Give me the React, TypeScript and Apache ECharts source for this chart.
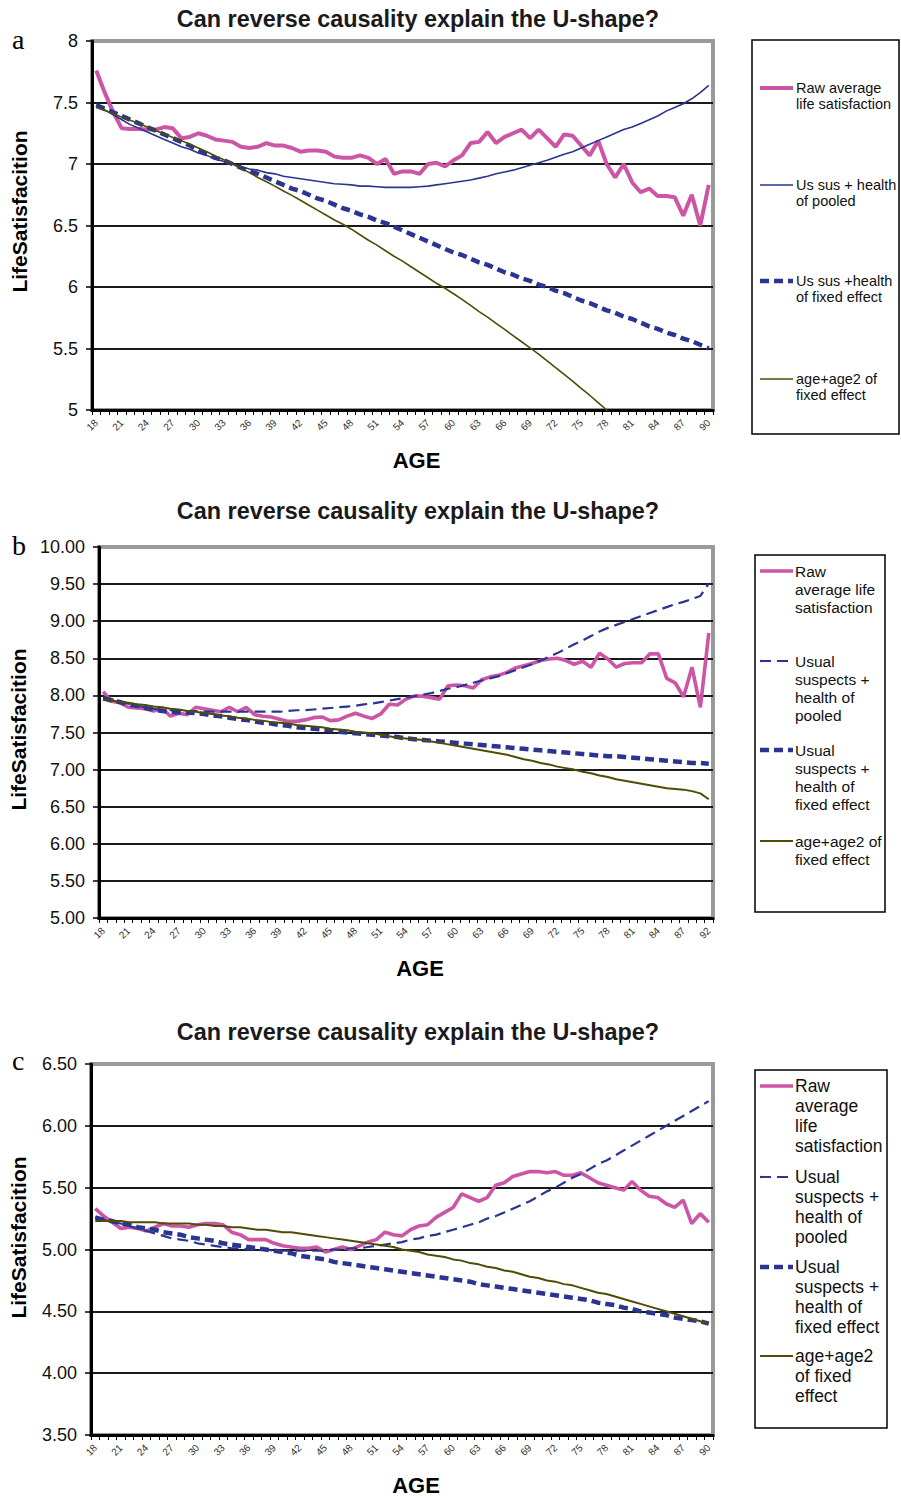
import React, { useEffect, useRef } from 'react';
import * as echarts from 'echarts';

const FONT = '"Liberation Sans", Arial, Helvetica, sans-serif';
const SERIF = '"Liberation Serif", "Times New Roman", serif';

// ---------- categories ----------
const agesA: string[] = Array.from({ length: 73 }, (_, i) => String(18 + i));
const agesB: string[] = [...Array.from({ length: 70 }, (_, i) => String(18 + i)), '88', '90', '92'];
const agesC: string[] = Array.from({ length: 73 }, (_, i) => String(18 + i));

// ---------- panel a ----------
const rawA = [7.76,7.58,7.42,7.29,7.285,7.285,7.28,7.28,7.30,7.29,
  7.21,7.22,7.25,7.23,7.20,7.19,7.18,7.14,7.13,7.14,
  7.17,7.15,7.15,7.13,7.10,7.11,7.11,7.10,7.06,7.05,
  7.05,7.07,7.05,7.00,7.04,6.92,6.94,6.94,6.92,7.00,
  7.01,6.98,7.03,7.07,7.17,7.18,7.26,7.17,7.22,7.25,
  7.28,7.21,7.28,7.21,7.14,7.24,7.23,7.15,7.07,7.19,
  7.00,6.89,7.00,6.85,6.77,6.80,6.74,6.74,6.73,6.58,
  6.75,6.50,6.83];
const pooledA = [7.48,7.44,7.40,7.36,7.32,7.29,7.26,7.23,7.20,7.17,
  7.14,7.12,7.09,7.07,7.04,7.02,7.00,6.98,6.96,6.95,
  6.93,6.92,6.90,6.89,6.88,6.87,6.86,6.85,6.84,6.835,
  6.83,6.82,6.82,6.815,6.81,6.81,6.81,6.81,6.815,6.82,
  6.83,6.84,6.85,6.86,6.87,6.885,6.90,6.92,6.935,6.95,
  6.97,6.99,7.01,7.03,7.055,7.08,7.10,7.13,7.16,7.19,
  7.22,7.25,7.28,7.30,7.33,7.36,7.39,7.43,7.46,7.49,
  7.53,7.58,7.64];
const fixedA = [7.48,7.45,7.42,7.39,7.36,7.33,7.30,7.27,7.24,7.21,
  7.18,7.15,7.11,7.08,7.05,7.03,7.00,6.97,6.94,6.92,
  6.89,6.86,6.83,6.80,6.78,6.75,6.72,6.70,6.67,6.64,
  6.62,6.59,6.57,6.54,6.52,6.49,6.46,6.43,6.40,6.37,
  6.34,6.31,6.28,6.26,6.23,6.20,6.18,6.15,6.12,6.10,
  6.07,6.05,6.02,6.00,5.97,5.95,5.92,5.89,5.87,5.84,
  5.81,5.79,5.76,5.74,5.71,5.68,5.66,5.63,5.61,5.58,
  5.56,5.53,5.50];
const oliveA = [7.46,7.435,7.41,7.38,7.355,7.33,7.30,7.27,7.245,7.215,
  7.19,7.16,7.13,7.10,7.065,7.035,7.00,6.965,6.93,6.89,
  6.855,6.82,6.78,6.745,6.705,6.665,6.625,6.585,6.545,6.51,
  6.47,6.425,6.38,6.34,6.295,6.25,6.21,6.165,6.12,6.075,
  6.03,5.99,5.945,5.90,5.85,5.80,5.755,5.705,5.655,5.605,
  5.555,5.505,5.455,5.40,5.345,5.29,5.235,5.175,5.12,5.06,
  5.00,4.94,4.88,4.82,4.76,4.70,4.63,4.57,4.50,4.44,
  4.37,4.30,4.23];

// ---------- panel b ----------
const rawB = [8.05,7.92,7.90,7.84,7.83,7.82,7.79,7.83,7.72,7.76,
  7.74,7.84,7.82,7.80,7.78,7.84,7.78,7.84,7.74,7.72,
  7.71,7.68,7.65,7.65,7.67,7.70,7.71,7.66,7.67,7.72,
  7.76,7.72,7.69,7.75,7.88,7.87,7.95,7.99,7.99,7.97,
  7.95,8.13,8.14,8.13,8.10,8.21,8.25,8.27,8.31,8.37,
  8.40,8.43,8.47,8.49,8.50,8.47,8.42,8.46,8.38,8.57,
  8.49,8.38,8.43,8.44,8.44,8.56,8.56,8.23,8.17,7.98,
  8.38,7.84,8.84];
const pooledB = [7.98,7.95,7.92,7.89,7.86,7.84,7.82,7.80,7.80,7.79,
  7.79,7.79,7.78,7.78,7.78,7.78,7.78,7.78,7.78,7.78,
  7.78,7.78,7.79,7.80,7.80,7.81,7.82,7.83,7.84,7.85,
  7.86,7.88,7.89,7.91,7.93,7.95,7.97,7.99,8.01,8.03,
  8.06,8.09,8.11,8.14,8.17,8.20,8.23,8.26,8.30,8.34,
  8.38,8.42,8.47,8.52,8.57,8.63,8.69,8.74,8.80,8.86,
  8.91,8.95,8.99,9.03,9.07,9.11,9.15,9.19,9.23,9.26,
  9.30,9.34,9.51];
const fixedB = [7.96,7.93,7.91,7.88,7.86,7.83,7.81,7.79,7.78,7.77,
  7.77,7.76,7.75,7.73,7.72,7.70,7.68,7.67,7.65,7.63,
  7.62,7.60,7.59,7.57,7.56,7.55,7.54,7.53,7.51,7.50,
  7.49,7.48,7.47,7.46,7.45,7.44,7.42,7.41,7.40,7.39,
  7.38,7.37,7.36,7.35,7.34,7.33,7.32,7.31,7.30,7.29,
  7.28,7.27,7.26,7.25,7.24,7.23,7.22,7.21,7.20,7.19,
  7.18,7.18,7.17,7.16,7.15,7.14,7.13,7.12,7.11,7.10,
  7.09,7.09,7.08];
const oliveB = [7.94,7.93,7.91,7.90,7.88,7.87,7.85,7.84,7.82,7.81,
  7.79,7.78,7.76,7.75,7.73,7.72,7.70,7.69,7.67,7.66,
  7.64,7.63,7.62,7.60,7.59,7.58,7.57,7.55,7.54,7.53,
  7.51,7.50,7.49,7.47,7.45,7.43,7.42,7.41,7.40,7.38,
  7.36,7.34,7.32,7.30,7.28,7.26,7.24,7.22,7.20,7.17,
  7.14,7.12,7.09,7.07,7.04,7.02,7.00,6.97,6.95,6.92,
  6.90,6.87,6.85,6.83,6.81,6.79,6.77,6.75,6.74,6.73,
  6.71,6.68,6.60];

// ---------- panel c ----------
const rawC = [5.33,5.27,5.22,5.17,5.18,5.17,5.15,5.18,5.21,5.19,
  5.19,5.18,5.20,5.21,5.21,5.20,5.14,5.12,5.08,5.08,
  5.08,5.05,5.03,5.02,5.01,5.01,5.02,4.98,5.00,5.02,
  5.00,5.03,5.06,5.08,5.14,5.12,5.11,5.16,5.19,5.20,
  5.26,5.30,5.34,5.45,5.42,5.39,5.42,5.52,5.54,5.59,
  5.61,5.63,5.63,5.62,5.63,5.60,5.60,5.62,5.58,5.54,
  5.52,5.50,5.48,5.55,5.48,5.43,5.42,5.37,5.34,5.40,
  5.21,5.29,5.22];
const pooledC = [5.26,5.24,5.22,5.21,5.19,5.17,5.15,5.13,5.11,5.09,
  5.08,5.07,5.05,5.04,5.03,5.02,5.01,5.01,5.00,5.00,
  5.00,4.99,4.99,4.99,4.99,4.99,4.99,4.99,5.00,5.00,
  5.01,5.01,5.02,5.03,5.04,5.05,5.06,5.08,5.09,5.11,
  5.12,5.14,5.16,5.18,5.20,5.22,5.25,5.27,5.30,5.33,
  5.36,5.39,5.43,5.47,5.50,5.54,5.58,5.61,5.65,5.69,
  5.72,5.76,5.80,5.84,5.88,5.92,5.96,6.00,6.04,6.08,
  6.12,6.16,6.20];
const fixedC = [5.26,5.24,5.23,5.21,5.20,5.18,5.17,5.16,5.14,5.13,
  5.12,5.10,5.09,5.08,5.07,5.05,5.04,5.03,5.02,5.01,
  5.00,4.99,4.98,4.97,4.95,4.94,4.93,4.92,4.90,4.89,
  4.88,4.87,4.86,4.85,4.84,4.83,4.82,4.81,4.80,4.79,
  4.78,4.77,4.76,4.75,4.74,4.72,4.71,4.70,4.69,4.68,
  4.67,4.66,4.65,4.64,4.63,4.62,4.61,4.60,4.59,4.57,
  4.56,4.55,4.53,4.52,4.50,4.49,4.48,4.47,4.45,4.44,
  4.43,4.42,4.40];
const oliveC = [5.23,5.23,5.23,5.23,5.22,5.22,5.22,5.22,5.21,5.21,
  5.21,5.21,5.20,5.20,5.19,5.19,5.18,5.18,5.17,5.16,
  5.16,5.15,5.14,5.14,5.13,5.12,5.11,5.10,5.09,5.08,
  5.07,5.06,5.05,5.04,5.03,5.02,5.00,4.99,4.98,4.96,
  4.95,4.94,4.92,4.91,4.89,4.88,4.86,4.85,4.83,4.82,
  4.80,4.78,4.77,4.75,4.74,4.72,4.71,4.69,4.67,4.65,
  4.64,4.62,4.60,4.58,4.56,4.54,4.52,4.50,4.48,4.46,
  4.44,4.42,4.40];

// ---------- legend texts ----------
const legendA = ['Raw average\nlife satisfaction', 'Us sus + health\nof pooled', 'Us sus +health\nof fixed effect', 'age+age2 of\nfixed effect'];
const legendB = ['Raw\naverage life\nsatisfaction', 'Usual\nsuspects +\nhealth of\npooled', 'Usual\nsuspects +\nhealth of\nfixed effect', 'age+age2 of\nfixed effect'];
const legendC = ['Raw\naverage\nlife\nsatisfaction', 'Usual\nsuspects +\nhealth of\npooled', 'Usual\nsuspects +\nhealth of\nfixed effect', 'age+age2\nof fixed\neffect'];

const TITLE = 'Can reverse causality explain the U-shape?';

// ---------- styles ----------
const PINK = '#CC55A6';
const BLUE = '#2A3592';
const OLIVE = '#4F4C05';

type LS = { color: string; width: number; type: any };
const rawStyle: LS = { color: PINK, width: 4, type: 'solid' };
const pooledSolid: LS = { color: BLUE, width: 1.6, type: 'solid' };
const pooledDash: LS = { color: BLUE, width: 2.2, type: [11, 6] };
const fixedStyle: LS = { color: BLUE, width: 4.5, type: [9, 5] };
const oliveStyle: LS = { color: OLIVE, width: 1.6, type: 'solid' };

type Panel = {
  letter: string; letterY: number; titleTop: number;
  grid: { left: number; top: number; width: number; height: number };
  cats: string[]; min: number; max: number; decimals: boolean;
  series: { name: string; data: number[]; style: LS }[];
  legendTexts: string[];
  box: { x: number; y: number; w: number; h: number };
  legendY: number[]; iconX1: number; iconX2: number; textX: number;
  fontSize: number; lineHeight: number; yNameShift: number;
};

const panels: Panel[] = [
  {
    letter: 'a', letterY: 53, titleTop: 7,
    grid: { left: 92, top: 41, width: 621, height: 369 },
    cats: agesA, min: 5, max: 8, decimals: false,
    series: [
      { name: 'Raw average life satisfaction', data: rawA, style: rawStyle },
      { name: 'Us sus + health of pooled', data: pooledA, style: pooledSolid },
      { name: 'Us sus +health of fixed effect', data: fixedA, style: fixedStyle },
      { name: 'age+age2 of fixed effect', data: oliveA, style: oliveStyle },
    ],
    legendTexts: legendA,
    box: { x: 752, y: 40, w: 147, h: 394 },
    legendY: [88, 185, 281, 379], iconX1: 760, iconX2: 793, textX: 796,
    fontSize: 14.5, lineHeight: 16, yNameShift: 28,
  },
  {
    letter: 'b', letterY: 559, titleTop: 499,
    grid: { left: 90, top: 547, width: 623, height: 371 },
    cats: agesB, min: 5, max: 10, decimals: true,
    series: [
      { name: 'Raw average life satisfaction', data: rawB, style: { ...rawStyle, width: 3.6 } },
      { name: 'Usual suspects + health of pooled', data: pooledB, style: pooledDash },
      { name: 'Usual suspects + health of fixed effect', data: fixedB, style: fixedStyle },
      { name: 'age+age2 of fixed effect', data: oliveB, style: { ...oliveStyle, width: 2 } },
    ],
    legendTexts: legendB,
    box: { x: 755, y: 555, w: 130, h: 357 },
    legendY: [571, 661, 750, 841], iconX1: 760, iconX2: 793, textX: 795,
    fontSize: 15.5, lineHeight: 18, yNameShift: 6,
  },
  {
    letter: 'c', letterY: 1074, titleTop: 1020,
    grid: { left: 90, top: 1064, width: 623, height: 371 },
    cats: agesC, min: 3.5, max: 6.5, decimals: true,
    series: [
      { name: 'Raw average life satisfaction', data: rawC, style: { ...rawStyle, width: 3.6 } },
      { name: 'Usual suspects + health of pooled', data: pooledC, style: pooledDash },
      { name: 'Usual suspects + health of fixed effect', data: fixedC, style: fixedStyle },
      { name: 'age+age2 of fixed effect', data: oliveC, style: { ...oliveStyle, width: 2 } },
    ],
    legendTexts: legendC,
    box: { x: 755, y: 1070, w: 132, h: 358 },
    legendY: [1086, 1177, 1267, 1356], iconX1: 760, iconX2: 793, textX: 795,
    fontSize: 17.5, lineHeight: 20, yNameShift: 24,
  },
];

function buildOption() {
  const grid: any[] = [];
  const xAxis: any[] = [];
  const yAxis: any[] = [];
  const series: any[] = [];
  const title: any[] = [];
  const graphic: any[] = [];

  panels.forEach((p, i) => {
    grid.push({
      ...p.grid, show: true, borderColor: '#9a9a9a', borderWidth: 4,
      backgroundColor: 'transparent', containLabel: false,
    });
    title.push({
      text: TITLE, left: 418, top: p.titleTop, textAlign: 'center', padding: 0,
      textStyle: { fontFamily: FONT, fontSize: 23.4, fontWeight: 'bold', color: '#1a1a1a' },
    });
    xAxis.push({
      type: 'category', gridIndex: i, data: p.cats, boundaryGap: true,
      axisLine: { show: true, onZero: false, lineStyle: { color: '#000', width: 3 } },
      axisTick: { show: true, interval: 0, length: 5, lineStyle: { color: '#000', width: 1 } },
      axisLabel: { interval: 2, rotate: 45, fontSize: 10, color: '#333', margin: 11, fontFamily: FONT },
      splitLine: { show: false },
      name: 'AGE', nameLocation: 'middle', nameGap: 39,
      nameTextStyle: { fontFamily: FONT, fontSize: 22, fontWeight: 'bold', color: '#000', padding: [0, 0, 0, 28] },
    });
    yAxis.push({
      type: 'value', gridIndex: i, min: p.min, max: p.max, interval: 0.5,
      axisLine: { show: true, onZero: false, lineStyle: { color: '#000', width: 3 } },
      axisTick: { show: true, length: 6, lineStyle: { color: '#000', width: 1.5 } },
      axisLabel: {
        fontSize: 18, color: '#111', fontFamily: FONT, margin: 14,
        formatter: p.decimals ? (v: number) => v.toFixed(2) : undefined,
      },
      splitLine: { show: true, showMaxLine: false, lineStyle: { color: '#1a1a1a', width: 2 } },
      name: 'LifeSatisfacition', nameLocation: 'middle', nameGap: 62,
      nameTextStyle: {
        fontFamily: FONT, fontSize: 21, fontWeight: 'bold', color: '#000',
        padding: [0, 0, 0, p.yNameShift],
      },
    });
    p.series.forEach((s) => {
      series.push({
        type: 'line', name: s.name, xAxisIndex: i, yAxisIndex: i, data: s.data,
        symbol: 'none', clip: true, smooth: false,
        lineStyle: { color: s.style.color, width: s.style.width, type: s.style.type, cap: 'butt' },
        itemStyle: { color: s.style.color },
      });
    });

    // panel letter
    graphic.push({
      type: 'text', x: 12, y: p.letterY,
      style: { text: p.letter, font: `28px ${SERIF}`, fill: '#000', verticalAlign: 'bottom' },
    });
    // legend box
    graphic.push({
      type: 'rect', shape: { x: p.box.x, y: p.box.y, width: p.box.w, height: p.box.h },
      style: { fill: '#fff', stroke: '#000', lineWidth: 1.5 },
    });
    p.series.forEach((s, k) => {
      const y = p.legendY[k];
      graphic.push({
        type: 'line', shape: { x1: p.iconX1, y1: y, x2: p.iconX2, y2: y },
        style: {
          stroke: s.style.color, lineWidth: s.style.width,
          lineDash: Array.isArray(s.style.type) ? s.style.type : null,
        },
      });
      graphic.push({
        type: 'text', x: p.textX, y: y - p.lineHeight / 2,
        style: {
          text: p.legendTexts[k], font: `${p.fontSize}px ${FONT}`, fill: '#111',
          lineHeight: p.lineHeight, verticalAlign: 'top', align: 'left',
        },
      });
    });
  });

  return {
    animation: false,
    backgroundColor: '#fff',
    title, grid, xAxis, yAxis, series, graphic,
    legend: { show: false },
    tooltip: { show: false },
  };
}

export default function App() {
  const ref = useRef<HTMLDivElement>(null);
  useEffect(() => {
    document.body.style.margin = '0';
    document.body.style.overflow = 'hidden';
    if (!ref.current) return;
    const chart = echarts.init(ref.current, null, { renderer: 'svg' });
    chart.setOption(buildOption() as any);
    return () => chart.dispose();
  }, []);
  return <div ref={ref} style={{ width: 901, height: 1501 }} />;
}
